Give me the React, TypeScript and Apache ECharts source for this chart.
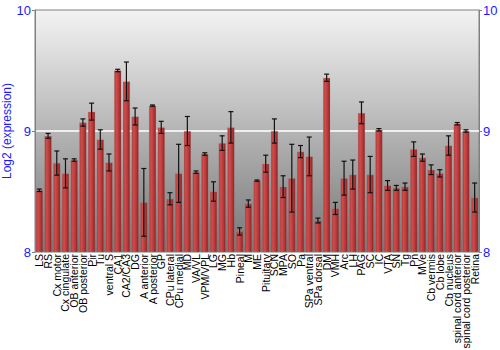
import React, { useEffect, useRef } from "react";
import * as echarts from "echarts";

const categories = [
  "LS", "RS", "Cx motor", "Cx cingulate", "OB anterior", "OB posterior", "Pir", "Tu",
  "ventral S", "CA1", "CA2/CA3", "DG", "A anterior", "A posterior", "GP", "CPu lateral",
  "CPu medial", "MD", "VA/VL", "VPM/VPL", "LG", "MG", "Hb", "Pineal", "M", "ME",
  "Pituitary", "SCN", "MPA", "SO", "Pa", "SPa ventral", "SPa dorsal", "DM", "VMH", "Arc",
  "LH", "PAG", "SC", "IC", "VTA", "SN", "Tg", "Pn", "MVe", "Cb vermis", "Cb lobe",
  "Cb nucleus", "spinal cord anterior", "spinal cord posterior", "Retina",
];

const values = [
  8.51, 8.96, 8.735, 8.65, 8.76, 9.07, 9.16, 8.93,
  8.74, 9.50, 9.41, 9.12, 8.41, 9.21, 9.03, 8.44,
  8.65, 9.0, 8.66, 8.81, 8.50, 8.90, 9.03, 8.17, 8.40, 8.59,
  8.73, 9.0, 8.54, 8.61, 8.83, 8.79, 8.26, 9.44, 8.36, 8.61,
  8.64, 9.15, 8.64, 9.01, 8.55, 8.53, 8.54, 8.85, 8.78, 8.68, 8.65,
  8.88, 9.06, 9.0, 8.45,
];

const errors = [
  0.01, 0.02, 0.1, 0.12, 0.01, 0.03, 0.07, 0.08,
  0.07, 0.01, 0.16, 0.07, 0.28, 0.005, 0.05, 0.05,
  0.24, 0.12, 0.01, 0.01, 0.08, 0.06, 0.13, 0.03, 0.03, 0.005,
  0.07, 0.1, 0.09, 0.28, 0.05, 0.16, 0.02, 0.03, 0.05, 0.14,
  0.12, 0.09, 0.15, 0.01, 0.04, 0.02, 0.03, 0.06, 0.03, 0.04, 0.03,
  0.08, 0.01, 0.01, 0.12,
];

const yTicks = { min: 8, max: 10, interval: 1 };

export default function App() {
  const ref = useRef<HTMLDivElement>(null);

  useEffect(() => {
    if (!ref.current) return;
    const chart = echarts.init(ref.current, null, { renderer: "svg" });
    const font = "'Liberation Sans', Arial, sans-serif";
    const errData = values.map((v, i) => [i, v - errors[i], v + errors[i]]);

    const yBase = {
      type: "value" as const,
      min: yTicks.min,
      max: yTicks.max,
      interval: yTicks.interval,
      axisLine: { show: true, lineStyle: { color: "#808080", width: 1 } },
      axisTick: { show: true, length: 3, lineStyle: { color: "#808080" } },
      axisLabel: { color: "#1a1aff", fontSize: 13, fontFamily: font, margin: 4 },
    };

    chart.setOption({
      animation: false,
      grid: {
        left: 35,
        right: 21,
        top: 10,
        bottom: 98,
        containLabel: false,
        outerBoundsMode: "none",
        show: true,
        borderColor: "#808080",
        borderWidth: 1,
        backgroundColor: new echarts.graphic.LinearGradient(0, 0, 0, 1, [
          { offset: 0, color: "#f3f3f3" },
          { offset: 1, color: "#767676" },
        ]),
      },
      xAxis: {
        type: "category",
        data: categories,
        axisLine: { show: false },
        axisTick: { show: false },
        axisLabel: {
          interval: 0,
          rotate: 90,
          fontSize: 10.5,
          color: "#000",
          fontFamily: font,
          margin: 2,
        },
      },
      yAxis: [
        {
          ...yBase,
          position: "left",
          name: "Log2 (expression)",
          nameLocation: "middle",
          nameRotate: 90,
          nameGap: 22,
          nameMoveOverlap: false,
          nameTextStyle: { color: "#1a1aff", fontSize: 12, fontFamily: font },
          splitLine: {
            show: true,
            lineStyle: { color: ["transparent", "#eeeeee", "transparent"], width: 2 },
          },
        },
        {
          ...yBase,
          position: "right",
          splitLine: { show: false },
        },
      ],
      series: [
        {
          type: "bar",
          data: values,
          barWidth: "84%",
          itemStyle: {
            color: new echarts.graphic.LinearGradient(0, 0, 1, 0, [
              { offset: 0, color: "#b43838" },
              { offset: 0.3, color: "#cf4c4c" },
              { offset: 0.7, color: "#b53636" },
              { offset: 1, color: "#862020" },
            ]),
            borderColor: "rgba(150,150,150,0.45)",
            borderWidth: 0.6,
          },
        },
        {
          type: "custom",
          data: errData,
          z: 5,
          renderItem: (params: any, api: any) => {
            const x = api.value(0);
            const lo = api.coord([x, api.value(1)]);
            const hi = api.coord([x, api.value(2)]);
            const cap = 2.5;
            const style = { stroke: "#111", lineWidth: 1.2 };
            return {
              type: "group",
              children: [
                { type: "line", shape: { x1: hi[0], y1: hi[1], x2: lo[0], y2: lo[1] }, style },
                { type: "line", shape: { x1: hi[0] - cap, y1: hi[1], x2: hi[0] + cap, y2: hi[1] }, style },
                { type: "line", shape: { x1: lo[0] - cap, y1: lo[1], x2: lo[0] + cap, y2: lo[1] }, style },
              ],
            };
          },
        },
      ],
    });

    return () => chart.dispose();
  }, []);

  return (
    <div
      ref={ref}
      style={{ position: "fixed", left: 0, top: 0, width: 500, height: 350, background: "#fff" }}
    />
  );
}
